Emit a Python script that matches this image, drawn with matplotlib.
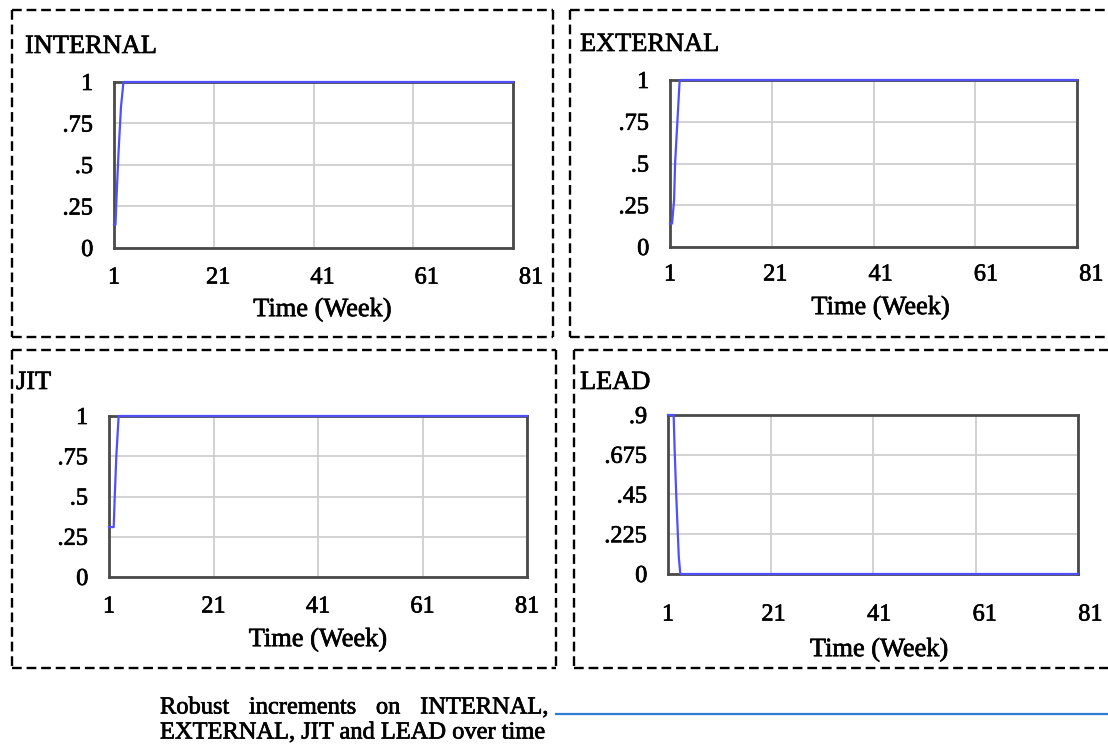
import matplotlib
matplotlib.use("Agg")
import matplotlib.pyplot as plt
import matplotlib.transforms as mtransforms
import matplotlib.patheffects as pe
from matplotlib.lines import Line2D

plt.rcParams['font.family'] = ['Liberation Serif', 'DejaVu Serif']
plt.rcParams['lines.scale_dashes'] = False

W, H = 1108, 744
DPI = 100

# ---- data -------------------------------------------------------------
titles = ["INTERNAL", "EXTERNAL", "JIT", "LEAD"]
x_ticks = [1, 21, 41, 61, 81]
x_label = "Time (Week)"

internal_t = [1, 1.3, 1.5, 1.9, 2.4, 2.9, 81]
internal_v = [0.14, 0.14, 0.3, 0.57, 0.85, 1.0, 1.0]

external_t = [1, 1.4, 1.8, 2.0, 2.45, 2.9, 81]
external_v = [0.14, 0.14, 0.28, 0.5, 0.75, 1.0, 1.0]

jit_t = [1, 1.9, 2.1, 2.4, 2.7, 2.85, 81]
jit_v = [0.31, 0.31, 0.5, 0.75, 0.92, 1.0, 1.0]

lead_t = [1, 2.1, 2.3, 2.6, 3.1, 3.4, 81]
lead_v = [0.9, 0.9, 0.7, 0.45, 0.1, 0.0, 0.0]

y_ticks_unit = [0, 0.25, 0.5, 0.75, 1.0]
y_labels_unit = ["0", ".25", ".5", ".75", "1"]
y_ticks_lead = [0, 0.225, 0.45, 0.675, 0.9]
y_labels_lead = ["0", ".225", ".45", ".675", ".9"]

caption_line1 = ["Robust", "increments", "on", "INTERNAL,"]
caption_line2 = "EXTERNAL, JIT and LEAD over time"

# ---- layout (pixels, measured from the top-left corner) ---------------
panels = [
    dict(title=titles[0], t=internal_t, v=internal_v, ylim=1.0,
         yt=y_ticks_unit, yl=y_labels_unit,
         ax_px=(114, 82, 513, 248), title_px=(25, 47),
         stretch=1.045, tick_drop=30, label_drop=62),
    dict(title=titles[1], t=external_t, v=external_v, ylim=1.0,
         yt=y_ticks_unit, yl=y_labels_unit,
         ax_px=(670, 80, 1077, 247), title_px=(580, 45),
         stretch=1.035, tick_drop=28, label_drop=61),
    dict(title=titles[2], t=jit_t, v=jit_v, ylim=1.0,
         yt=y_ticks_unit, yl=y_labels_unit,
         ax_px=(109, 416, 527, 577), title_px=(16, 383),
         stretch=1.0, tick_drop=30, label_drop=63),
    dict(title=titles[3], t=lead_t, v=lead_v, ylim=0.9,
         yt=y_ticks_lead, yl=y_labels_lead,
         ax_px=(668, 415, 1078, 574), title_px=(580, 383),
         stretch=1.03, tick_drop=41, label_drop=76),
]

boxes = [  # dashed frames: x0, y0, x1, y1, draw right side
    (12, 10, 553, 337, True),
    (570, 10, 1110, 337, False),
    (12, 350, 556, 668, True),
    (574, 350, 1110, 668, False),
]

LINE_BLUE = '#4f4fff'
FRAME = '#4a4a4a'
GRID = '#cfcfcf'
heavy = [pe.withStroke(linewidth=0.5, foreground='black')]

fig = plt.figure(figsize=(W / DPI, H / DPI), dpi=DPI)
fig.patch.set_facecolor('white')


def fx(x):
    return x / W


def fy(y):
    return 1 - y / H


# dashed panel frames
dash = dict(color='black', lw=1.7, dashes=(7, 3.5), transform=fig.transFigure)
for x0, y0, x1, y1, right in boxes:
    fig.add_artist(Line2D([fx(x0), fx(x1)], [fy(y0), fy(y0)], **dash))
    fig.add_artist(Line2D([fx(x0), fx(x1)], [fy(y1), fy(y1)], **dash))
    fig.add_artist(Line2D([fx(x0), fx(x0)], [fy(y0), fy(y1)], **dash))
    if right:
        fig.add_artist(Line2D([fx(x1), fx(x1)], [fy(y0), fy(y1)], **dash))

for p in panels:
    x0, y0, x1, y1 = p['ax_px']
    ax = fig.add_axes([fx(x0), fy(y1), fx(x1) - fx(x0), fy(y0) - fy(y1)])
    ax.set_xlim(1, 81)
    ax.set_ylim(0, p['ylim'])
    ax.set_xticks(x_ticks)
    ax.set_xticklabels([])
    ax.set_yticks(p['yt'])
    ax.set_yticklabels(p['yl'], fontsize=17.5)
    for lbl in ax.get_yticklabels():
        lbl.set_path_effects(heavy)
    ax.tick_params(length=0, pad=15)
    ax.grid(True, color=GRID, lw=1.3)
    ax.set_axisbelow(True)
    for s in ax.spines.values():
        s.set_color(FRAME)
        s.set_linewidth(2.0)
        s.set_zorder(2)

    ax.plot(p['t'], p['v'], color=LINE_BLUE, lw=1.6, clip_on=False, zorder=3)

    # x tick labels and axis label
    base = mtransforms.blended_transform_factory(ax.transData, ax.transAxes)
    tick_tr = mtransforms.offset_copy(base, fig=fig, y=-p['tick_drop'], units='dots')
    for v in x_ticks:
        ax.text(1 + (v - 1) * p['stretch'], 0, str(v), transform=tick_tr,
                ha='center', va='center', fontsize=17.5, path_effects=heavy)
    lab_tr = mtransforms.offset_copy(ax.transAxes, fig=fig, y=-p['label_drop'], units='dots')
    ax.text(0.5 * p['stretch'], 0, x_label, transform=lab_tr,
            ha='center', va='center', fontsize=19, path_effects=heavy)

    tx, ty = p['title_px']
    fig.text(fx(tx), fy(ty), p['title'], ha='left', va='center', fontsize=19,
             path_effects=heavy)

# caption: first line justified between two edges
renderer = fig.canvas.get_renderer()
cap_fs = 17.6
left_px, right_px = 160, 548
words = [fig.text(0, fy(708), w, fontsize=cap_fs, ha='left', va='center',
                  path_effects=heavy) for w in caption_line1]
widths = [t.get_window_extent(renderer).width for t in words]
gap = (right_px - left_px - sum(widths)) / (len(words) - 1)
xpos = left_px
for t, wdt in zip(words, widths):
    t.set_x(fx(xpos))
    xpos += wdt + gap
fig.text(fx(left_px), fy(733), caption_line2, fontsize=cap_fs, ha='left', va='center',
         path_effects=heavy)

fig.add_artist(Line2D([fx(556), fx(1108)], [fy(714), fy(714)], color='#2a7fd0',
                      lw=1.6, transform=fig.transFigure))

fig.savefig('out.png', dpi=DPI)
